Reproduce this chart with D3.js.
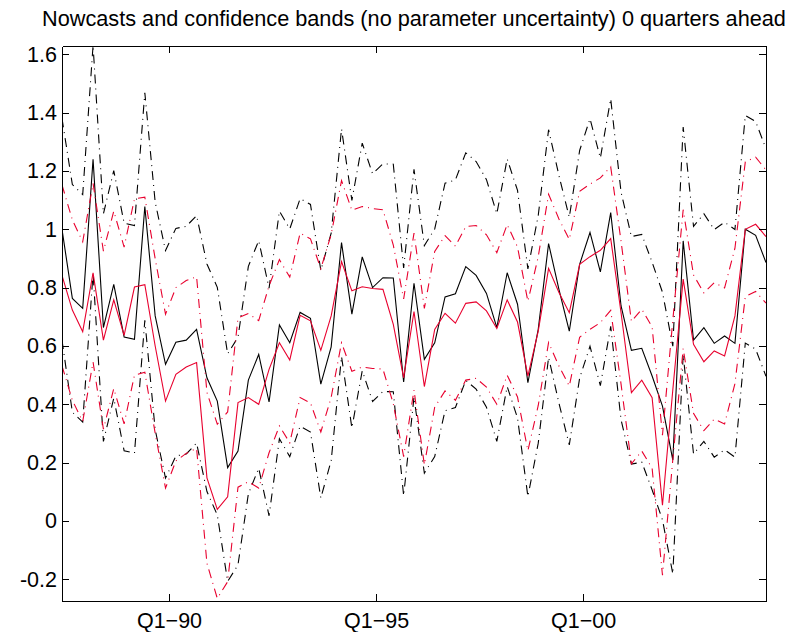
<html lang="en">
<head>
<meta charset="utf-8">
<title>Nowcasts and confidence bands</title>
<style>
	body {
		margin: 0;
		background-color: white;
		font-family: "Liberation Sans", Arial, Helvetica, sans-serif;
	}
	svg { display: block; background-color: white; }
	.axis path,
	.axis line {
		fill: none;
		stroke: black;
		shape-rendering: crispEdges;
	}
	.axis text {
		font-family: "Liberation Sans", Arial, sans-serif;
		font-size: 21.5px;
		fill: black;
	}
	.title {
		font-size: 21.7px;
		fill: black;
	}
	.line {
		fill: none;
		stroke-width: 1.1;
	}
</style>
</head>
<body>
<script src="https://cdnjs.cloudflare.com/ajax/libs/d3/7.8.5/d3.min.js"></script>
<script>
	// first observation: Q2-1987, quarterly up to Q2-2004
	var startYear = 1987, startQuarter = 2, nQuarters = 69;

	// model 1 nowcast (black) and its bands
	var blackNow = [1.00, 0.763, 0.729, 1.24, 0.663, 0.811, 0.631, 0.623, 1.078, 0.703,
		0.537, 0.613, 0.62, 0.657, 0.491, 0.411, 0.183, 0.24, 0.483, 0.571,
		0.408, 0.672, 0.611, 0.715, 0.695, 0.469, 0.597, 0.954, 0.709, 0.905,
		0.80, 0.834, 0.833, 0.477, 0.815, 0.554, 0.611, 0.768, 0.779, 0.872,
		0.842, 0.78, 0.663, 0.851, 0.743, 0.474, 0.657, 0.951, 0.794, 0.651,
		0.88, 0.989, 0.854, 1.057, 0.737, 0.585, 0.592, 0.497, 0.394, 0.209,
		0.96, 0.62, 0.663, 0.609, 0.634, 0.609, 1.00, 0.979, 0.886];
	var blackUpper = [1.38, 1.153, 1.119, 1.63, 1.053, 1.201, 1.021, 1.013, 1.468, 1.093,
		0.927, 1.003, 1.01, 1.047, 0.881, 0.801, 0.573, 0.63, 0.873, 0.961,
		0.798, 1.062, 1.001, 1.105, 1.085, 0.859, 0.987, 1.344, 1.099, 1.295,
		1.19, 1.224, 1.223, 0.867, 1.205, 0.944, 1.001, 1.158, 1.169, 1.262,
		1.232, 1.17, 1.053, 1.241, 1.133, 0.864, 1.047, 1.341, 1.184, 1.041,
		1.27, 1.379, 1.244, 1.447, 1.127, 0.975, 0.982, 0.887, 0.784, 0.599,
		1.35, 1.01, 1.053, 0.999, 1.024, 0.999, 1.39, 1.369, 1.276];
	var blackLower = [0.62, 0.373, 0.339, 0.85, 0.273, 0.421, 0.241, 0.233, 0.688, 0.313,
		0.147, 0.223, 0.23, 0.267, 0.101, 0.021, -0.207, -0.15, 0.093, 0.181,
		0.018, 0.282, 0.221, 0.325, 0.305, 0.079, 0.207, 0.564, 0.319, 0.515,
		0.41, 0.444, 0.443, 0.087, 0.425, 0.164, 0.221, 0.378, 0.389, 0.482,
		0.452, 0.39, 0.273, 0.461, 0.353, 0.084, 0.267, 0.561, 0.404, 0.261,
		0.49, 0.599, 0.464, 0.667, 0.347, 0.195, 0.202, 0.107, 0.004, -0.181,
		0.57, 0.23, 0.273, 0.219, 0.244, 0.219, 0.61, 0.589, 0.496];

	// model 2 nowcast (red) and its bands
	var redNow = [0.842, 0.723, 0.649, 0.851, 0.62, 0.758, 0.636, 0.802, 0.81, 0.60,
		0.411, 0.503, 0.528, 0.543, 0.148, 0.04, 0.083, 0.406, 0.423, 0.40,
		0.52, 0.611, 0.552, 0.705, 0.686, 0.585, 0.703, 0.889, 0.789, 0.803,
		0.797, 0.794, 0.674, 0.491, 0.718, 0.461, 0.657, 0.712, 0.678, 0.746,
		0.751, 0.72, 0.66, 0.758, 0.682, 0.497, 0.651, 0.866, 0.783, 0.714,
		0.88, 0.906, 0.928, 0.968, 0.714, 0.44, 0.483, 0.423, 0.054, 0.45,
		0.829, 0.606, 0.546, 0.583, 0.566, 0.703, 1.00, 1.017, 0.975];
	var redUpper = [1.152, 1.032, 0.957, 1.157, 0.925, 1.062, 0.939, 1.104, 1.11, 0.899,
		0.709, 0.80, 0.824, 0.837, 0.441, 0.332, 0.374, 0.696, 0.711, 0.687,
		0.806, 0.896, 0.836, 0.987, 0.967, 0.865, 0.982, 1.167, 1.065, 1.078,
		1.071, 1.067, 0.946, 0.761, 0.987, 0.729, 0.924, 0.978, 0.942, 1.009,
		1.013, 0.981, 0.92, 1.016, 0.939, 0.753, 0.906, 1.12, 1.035, 0.965,
		1.13, 1.155, 1.176, 1.214, 0.959, 0.684, 0.726, 0.665, 0.294, 0.689,
		1.067, 0.843, 0.782, 0.817, 0.799, 0.935, 1.231, 1.247, 1.203];
	var redLower = [0.532, 0.414, 0.341, 0.545, 0.315, 0.454, 0.333, 0.50, 0.51, 0.301,
		0.113, 0.206, 0.232, 0.249, -0.145, -0.265, -0.208, 0.116, 0.135, 0.113,
		0.234, 0.326, 0.268, 0.423, 0.405, 0.305, 0.424, 0.611, 0.513, 0.528,
		0.523, 0.521, 0.402, 0.221, 0.449, 0.193, 0.39, 0.446, 0.414, 0.483,
		0.489, 0.459, 0.40, 0.50, 0.425, 0.241, 0.396, 0.612, 0.531, 0.463,
		0.63, 0.657, 0.68, 0.722, 0.469, 0.196, 0.24, 0.181, -0.186, 0.211,
		0.591, 0.369, 0.31, 0.349, 0.333, 0.471, 0.769, 0.787, 0.747];

	var xTickYears = [1990, 1995, 2000];
	var xTickLabels = ["Q1\u221290", "Q1\u221295", "Q1\u221200"];
	var yTicks = [-0.2, 0, 0.2, 0.4, 0.6, 0.8, 1, 1.2, 1.4, 1.6];
	var yDomain = [-0.274, 1.628];

	var titleText = "Nowcasts and confidence bands (no parameter uncertainty) 0 quarters ahead";

	// quarter dates (plotted at the last month of the quarter)
	var dates = [];
	for (var i = 0; i < nQuarters; i++) {
		var k = startYear * 4 + (startQuarter - 1) + i;
		var yr = Math.floor(k / 4), q = k % 4 + 1;
		dates.push(yr + (3 * q - 1) / 12);
	}

	var fullwidth = 792;
	var fullheight = 632;
	var margin = { top: 46, right: 26, bottom: 31, left: 62 };
	var width = fullwidth - margin.left - margin.right;
	var height = fullheight - margin.top - margin.bottom;

	var svgRoot = d3.select("body")
		.append("svg")
		.attr("width", fullwidth)
		.attr("height", fullheight);

	svgRoot.append("text")
		.attr("class", "title")
		.attr("x", margin.left + width / 2)
		.attr("y", 26)
		.style("text-anchor", "middle")
		.text(titleText);

	var svg = svgRoot.append("g")
		.attr("transform", "translate(" + margin.left + "," + margin.top + ")");

	var xScale = d3.scaleLinear()
		.domain([dates[0], dates[nQuarters - 1]])
		.range([0, width]);

	var yScale = d3.scaleLinear()
		.domain(yDomain)
		.range([height, 0]);

	svg.append("clipPath")
		.attr("id", "plotclip")
		.append("rect")
		.attr("width", width)
		.attr("height", height);

	var dashDot = "9,5,1,5";
	var red = "#e8002e";

	var series = [
		{ values: blackUpper, color: "black", dash: dashDot },
		{ values: blackLower, color: "black", dash: dashDot },
		{ values: blackNow, color: "black", dash: null },
		{ values: redUpper, color: red, dash: dashDot },
		{ values: redLower, color: red, dash: dashDot },
		{ values: redNow, color: red, dash: null }
	];

	var line = d3.line()
		.x(function(d, i) { return xScale(dates[i]); })
		.y(function(d) { return yScale(d); });

	svg.append("g")
		.attr("clip-path", "url(#plotclip)")
		.selectAll("path")
		.data(series)
		.enter()
		.append("path")
		.attr("class", "line")
		.attr("d", function(d) { return line(d.values); })
		.attr("stroke", function(d) { return d.color; })
		.attr("stroke-dasharray", function(d) { return d.dash; });

	// axes, ticks pointing inward on all four sides
	var fmtY = function(d) { return String(+d.toFixed(1)); };

	svg.append("g")
		.attr("class", "x axis")
		.attr("transform", "translate(0," + height + ")")
		.call(d3.axisBottom(xScale)
			.tickValues(xTickYears)
			.tickFormat(function(d, i) { return xTickLabels[i]; })
			.tickSizeInner(-7).tickSizeOuter(0).tickPadding(12));

	svg.append("g")
		.attr("class", "x axis")
		.call(d3.axisTop(xScale)
			.tickValues(xTickYears)
			.tickFormat("")
			.tickSizeInner(-7).tickSizeOuter(0));

	svg.append("g")
		.attr("class", "y axis")
		.call(d3.axisLeft(yScale)
			.tickValues(yTicks)
			.tickFormat(fmtY)
			.tickSizeInner(-7).tickSizeOuter(0).tickPadding(5));

	svg.append("g")
		.attr("class", "y axis")
		.attr("transform", "translate(" + width + ",0)")
		.call(d3.axisRight(yScale)
			.tickValues(yTicks)
			.tickFormat("")
			.tickSizeInner(-7).tickSizeOuter(0));
</script>
</body>
</html>
